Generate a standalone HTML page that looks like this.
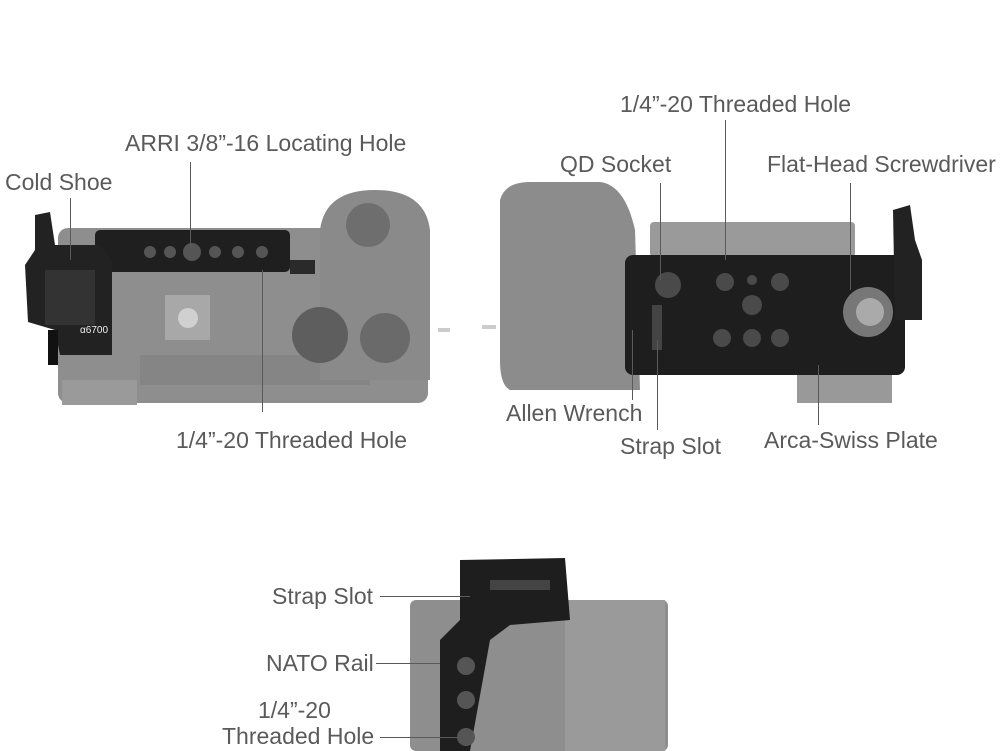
<!DOCTYPE html>
<html><head><meta charset="utf-8"><style>
body{margin:0;background:#fff;}
#c{position:relative;width:1000px;height:751px;overflow:hidden;background:#fff;font-family:"Liberation Sans",sans-serif;}
.t{position:absolute;color:#5a5a5a;font-size:23px;white-space:nowrap;line-height:26px;}
.l{position:absolute;background:#5a5a5a;}
.a{position:absolute;}
</style></head><body><div id="c">
<svg class="a" style="left:0;top:0" width="1000" height="751">
<rect x="58" y="228" width="370" height="175" rx="10" fill="#8e8e8e"/>
<rect x="62" y="380" width="75" height="25" fill="#9a9a9a"/>
<rect x="140" y="355" width="230" height="30" fill="#858585"/>
<path d="M320 230 Q325 190 375 190 Q425 190 430 230 L430 380 L320 380Z" fill="#8a8a8a"/>
<circle cx="368" cy="225" r="22" fill="#6e6e6e"/>
<circle cx="320" cy="335" r="28" fill="#5e5e5e"/>
<circle cx="385" cy="338" r="25" fill="#6a6a6a"/>
<rect x="165" y="295" width="45" height="45" fill="#a8a8a8"/>
<circle cx="188" cy="318" r="10" fill="#d0d0d0"/>
<rect x="95" y="230" width="195" height="42" rx="5" fill="#1f1f1f"/>
<g fill="#555"><circle cx="150" cy="252" r="6"/><circle cx="170" cy="252" r="6"/><circle cx="192" cy="252" r="9"/><circle cx="215" cy="252" r="6"/><circle cx="238" cy="252" r="6"/><circle cx="262" cy="252" r="6"/></g>
<rect x="290" y="260" width="25" height="14" fill="#2a2a2a"/>
<path d="M35 215 L50 212 L55 245 L100 245 L112 260 L112 355 L60 355 L55 330 L28 322 L25 265 L35 250Z" fill="#222"/>
<rect x="45" y="270" width="50" height="55" fill="#333"/>
<rect x="48" y="330" width="10" height="35" fill="#111"/>
<text x="80" y="333" fill="#eee" font-size="10" font-family="Liberation Sans">α6700</text>
<path d="M500 200 Q505 182 530 182 L600 182 Q625 185 635 230 L640 390 L510 390 Q500 385 500 360Z" fill="#8c8c8c"/>
<rect x="650" y="222" width="205" height="35" rx="4" fill="#9a9a9a"/>
<rect x="797" y="375" width="95" height="28" fill="#999"/>
<rect x="625" y="255" width="280" height="120" rx="8" fill="#1e1e1e"/>
<g fill="#4a4a4a"><circle cx="668" cy="285" r="13"/><circle cx="725" cy="282" r="9"/><circle cx="780" cy="282" r="9"/><circle cx="752" cy="305" r="10"/><circle cx="722" cy="338" r="9"/><circle cx="752" cy="338" r="9"/><circle cx="780" cy="338" r="9"/><circle cx="752" cy="280" r="5"/></g>
<rect x="652" y="305" width="10" height="45" fill="#444"/>
<path d="M893 210 L910 205 L915 240 L922 260 L922 320 L895 320Z" fill="#222"/>
<circle cx="868" cy="312" r="25" fill="#777"/>
<circle cx="870" cy="312" r="14" fill="#aaa"/>
<rect x="438" y="328" width="12" height="4" fill="#ccc"/><rect x="482" y="325" width="14" height="4" fill="#ccc"/>
<rect x="410" y="600" width="258" height="151" rx="6" fill="#8e8e8e"/>
<rect x="565" y="600" width="100" height="151" fill="#9a9a9a"/>
<path d="M460 560 L565 558 L570 620 L510 625 L490 640 L470 751 L440 751 L440 640 L460 620Z" fill="#1e1e1e"/>
<g fill="#555"><circle cx="466" cy="666" r="9"/><circle cx="466" cy="700" r="9"/><circle cx="466" cy="737" r="9"/></g>
<rect x="490" y="580" width="60" height="10" fill="#444"/>
</svg>
<div class="t" style="left:5px;top:169px">Cold Shoe</div><div class="l" style="left:70px;top:198px;width:1px;height:62px"></div>
<div class="t" style="left:125px;top:130px">ARRI 3/8”-16 Locating Hole</div><div class="l" style="left:190px;top:162px;width:1px;height:88px"></div>
<div class="t" style="left:176px;top:427px">1/4”-20 Threaded Hole</div><div class="l" style="left:262px;top:270px;width:1px;height:142px"></div>
<div class="t" style="left:620px;top:91px">1/4”-20 Threaded Hole</div><div class="l" style="left:725px;top:120px;width:1px;height:140px"></div>
<div class="t" style="left:560px;top:151px">QD Socket</div><div class="l" style="left:660px;top:183px;width:1px;height:97px"></div>
<div class="t" style="left:767px;top:151px">Flat-Head Screwdriver</div><div class="l" style="left:850px;top:183px;width:1px;height:107px"></div>
<div class="t" style="left:506px;top:400px">Allen Wrench</div><div class="l" style="left:632px;top:330px;width:1px;height:70px"></div>
<div class="t" style="left:620px;top:433px">Strap Slot</div><div class="l" style="left:657px;top:340px;width:1px;height:90px"></div>
<div class="t" style="left:764px;top:427px">Arca-Swiss Plate</div><div class="l" style="left:818px;top:365px;width:1px;height:60px"></div>
<div class="t" style="left:272px;top:583px">Strap Slot</div><div class="l" style="left:380px;top:596px;width:90px;height:1px"></div>
<div class="t" style="left:266px;top:650px">NATO Rail</div><div class="l" style="left:376px;top:663px;width:64px;height:1px"></div>
<div class="t" style="left:258px;top:697px">1/4”-20</div>
<div class="t" style="left:222px;top:723px">Threaded Hole</div><div class="l" style="left:380px;top:737px;width:78px;height:1px"></div>
</div></body></html>
